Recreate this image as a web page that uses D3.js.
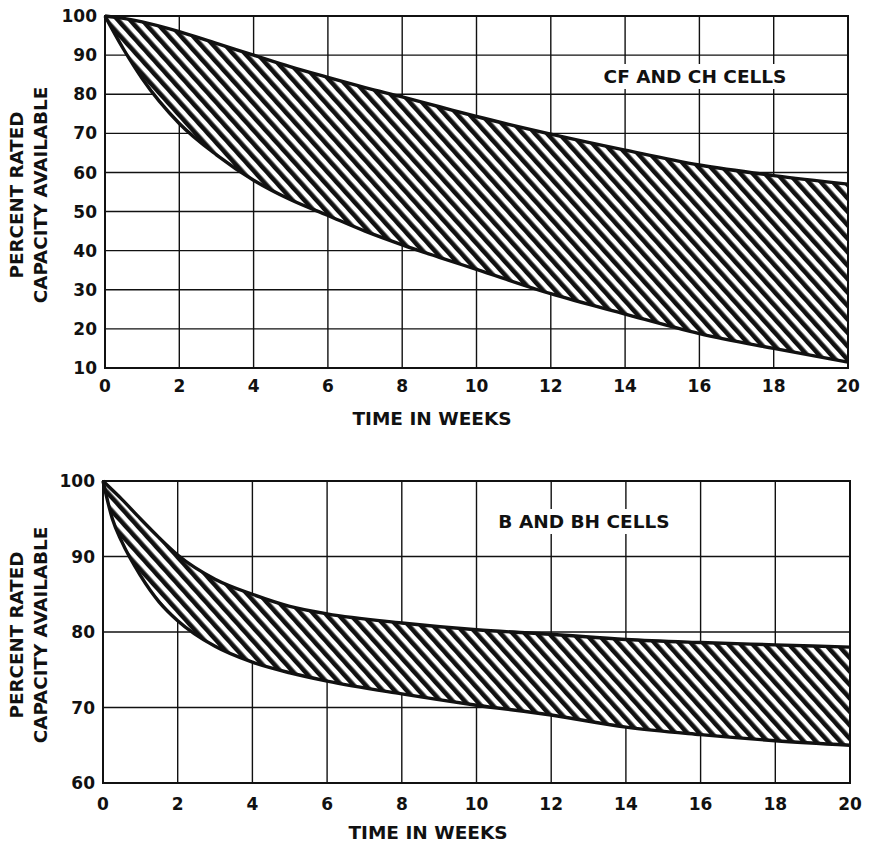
<!DOCTYPE html>
<html>
<head>
<meta charset="utf-8">
<script src="https://cdn.jsdelivr.net/npm/d3@7"></script>
<style>
  body { margin: 0; background: #fff; }
  text { font-family: "DejaVu Sans", sans-serif; font-weight: bold; fill: #111; }
</style>
</head>
<body>
<svg id="chart" width="871" height="845"></svg>
<script>
// Shared x axis: storage time in weeks
const weekTicks = [0, 2, 4, 6, 8, 10, 12, 14, 16, 18, 20];

// CF and CH cells: envelope of remaining capacity (%)
const cfWeeks = [0, 0.5, 1, 2, 3, 4, 5, 6, 7, 8, 9, 10, 12, 14, 16, 18, 20];
const cfUpper = [100, 99.4, 98.5, 96, 93, 90, 87, 84.3, 81.7, 79.3, 76.8, 74.3, 69.8, 65.7, 61.9, 59.2, 57];
const cfLower = [100, 91.5, 84, 72.5, 64.5, 58, 53, 49, 45, 41.5, 38.3, 35.2, 29, 23.8, 18.8, 15, 11.5];
const cfTicks = [10, 20, 30, 40, 50, 60, 70, 80, 90, 100];

// B and BH cells: envelope of remaining capacity (%)
const bWeeks = [0, 0.25, 0.5, 1, 1.5, 2, 3, 4, 5, 6, 8, 10, 12, 14, 16, 18, 20];
const bUpper = [100, 98.8, 97.6, 95, 92.5, 90.2, 87, 85, 83.4, 82.4, 81.2, 80.3, 79.7, 79, 78.6, 78.3, 78];
const bLower = [100, 95, 92, 87.5, 84, 81.5, 78.1, 76, 74.6, 73.5, 71.8, 70.3, 69, 67.4, 66.4, 65.6, 65];
const bTicks = [60, 70, 80, 90, 100];

const svg = d3.select("#chart");
const ink = "#111";

// Diagonal hatch used to fill the band between the two limit curves
const defs = svg.append("defs");
const hatch = defs.append("pattern")
  .attr("id", "hatch")
  .attr("patternUnits", "userSpaceOnUse")
  .attr("width", 9).attr("height", 9)
  .attr("patternTransform", "rotate(-42)");
hatch.append("rect").attr("width", 9).attr("height", 9).attr("fill", "#fff");
hatch.append("rect").attr("x", 0).attr("width", 4.6).attr("height", 9).attr("fill", ink);

function drawPanel(cfg) {
  const x = d3.scaleLinear().domain([0, 20]).range([cfg.left, cfg.right]);
  const y = d3.scaleLinear().domain(d3.extent(cfg.yTicks)).range([cfg.bottom, cfg.top]);
  const g = svg.append("g");

  // grid
  g.append("g").selectAll("line").data(weekTicks).join("line")
    .attr("x1", d => x(d)).attr("x2", d => x(d))
    .attr("y1", cfg.top).attr("y2", cfg.bottom)
    .attr("stroke", ink).attr("stroke-width", 1.4);
  g.append("g").selectAll("line").data(cfg.yTicks).join("line")
    .attr("x1", cfg.left).attr("x2", cfg.right)
    .attr("y1", d => y(d)).attr("y2", d => y(d))
    .attr("stroke", ink).attr("stroke-width", 1.4);

  // label with white backing that interrupts the grid
  const lab = g.append("g");
  const t = lab.append("text")
    .attr("x", cfg.labelX).attr("y", cfg.labelY)
    .attr("text-anchor", "middle")
    .style("font-size", "18.5px")
    .text(cfg.label);
  const bb = t.node().getBBox();
  lab.insert("rect", "text")
    .attr("x", bb.x - 5).attr("y", bb.y - 2)
    .attr("width", bb.width + 10).attr("height", bb.height + 4)
    .attr("fill", "#fff");

  // hatched band
  const pts = cfg.weeks.map((w, i) => ({ w, hi: cfg.upper[i], lo: cfg.lower[i] }));
  const area = d3.area().curve(d3.curveMonotoneX)
    .x(d => x(d.w)).y0(d => y(d.lo)).y1(d => y(d.hi));
  g.append("path").datum(pts).attr("d", area).attr("fill", "url(#hatch)");

  const line = d3.line().curve(d3.curveMonotoneX).x(d => x(d[0])).y(d => y(d[1]));
  [cfg.upper, cfg.lower].forEach(vals => {
    g.append("path").datum(cfg.weeks.map((w, i) => [w, vals[i]]))
      .attr("d", line).attr("fill", "none")
      .attr("stroke", ink).attr("stroke-width", 3.4)
      .attr("stroke-linejoin", "round");
  });

  // frame
  g.append("rect")
    .attr("x", cfg.left).attr("y", cfg.top)
    .attr("width", cfg.right - cfg.left).attr("height", cfg.bottom - cfg.top)
    .attr("fill", "none").attr("stroke", ink).attr("stroke-width", 2);

  // tick labels
  g.append("g").selectAll("text").data(cfg.yTicks).join("text")
    .attr("x", cfg.left - 8).attr("y", d => y(d)).attr("dy", "0.36em")
    .attr("text-anchor", "end").style("font-size", "17px")
    .text(d => d);
  g.append("g").selectAll("text").data(weekTicks).join("text")
    .attr("x", d => x(d)).attr("y", cfg.bottom + cfg.xTickGap)
    .attr("text-anchor", "middle").style("font-size", "17px")
    .text(d => d);

  // axis titles
  g.append("text")
    .attr("x", cfg.xTitleX).attr("y", cfg.xTitleY)
    .attr("text-anchor", "middle").style("font-size", "18.5px")
    .text("TIME IN WEEKS");
  const mid = (cfg.top + cfg.bottom) / 2 + 3;
  [["PERCENT RATED", 22.5], ["CAPACITY AVAILABLE", 47]].forEach(([txt, bx]) => {
    g.append("text")
      .attr("transform", `translate(${bx},${mid}) rotate(-90)`)
      .attr("text-anchor", "middle").style("font-size", "18.3px")
      .text(txt);
  });
}

drawPanel({
  left: 105, right: 848, top: 16, bottom: 368,
  yTicks: cfTicks, weeks: cfWeeks, upper: cfUpper, lower: cfLower,
  label: "CF AND CH CELLS", labelX: 695, labelY: 83,
  xTickGap: 24, xTitleX: 432, xTitleY: 425
});

drawPanel({
  left: 103, right: 850, top: 481, bottom: 783,
  yTicks: bTicks, weeks: bWeeks, upper: bUpper, lower: bLower,
  label: "B AND BH CELLS", labelX: 584, labelY: 528,
  xTickGap: 27, xTitleX: 428, xTitleY: 839
});
</script>
</body>
</html>
